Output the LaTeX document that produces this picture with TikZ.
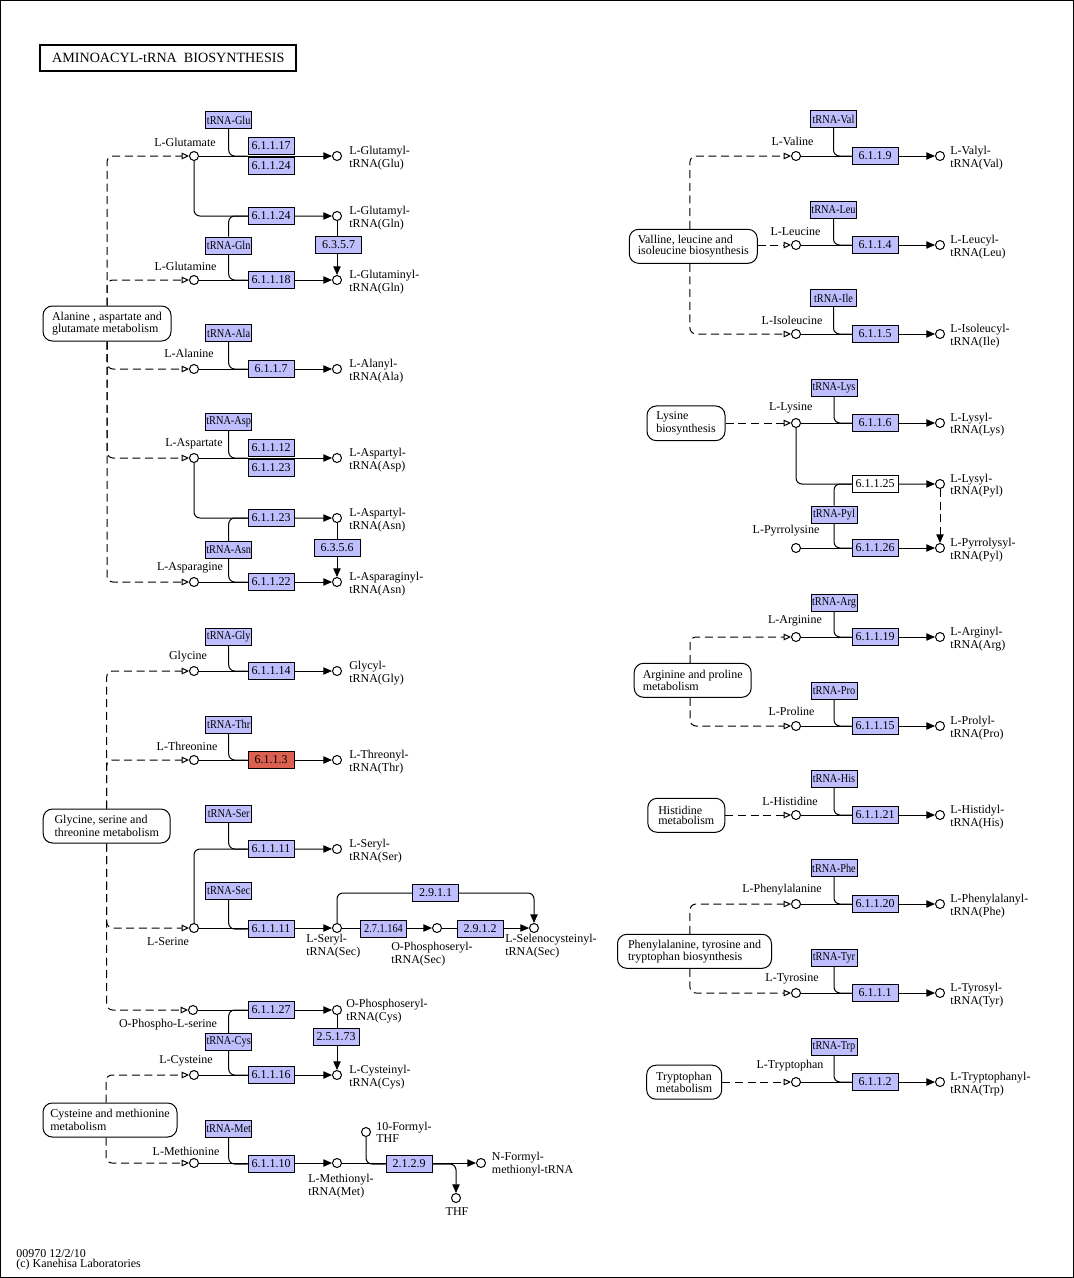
\documentclass[tikz,border=0pt]{standalone}
\usepackage{fontspec}
\usepackage{graphicx}
\setmainfont{Liberation Serif}
\usetikzlibrary{arrows.meta}
\pgfdeclarelayer{bg}
\pgfsetlayers{bg,main}
\definecolor{kblue}{RGB}{191,191,255}
\definecolor{kred}{RGB}{220,96,80}
\newcommand{\trtext}[1]{\scalebox{0.86}[1]{#1}}
\begin{document}
\begin{tikzpicture}[x=0.75pt,y=-0.75pt,
  every node/.style={font=\fontsize{9}{7.6}\selectfont, inner sep=0pt},
  cpd/.style={circle,draw,fill=white,minimum size=6.75pt,line width=0.75pt},
  enz/.style={rectangle,draw,fill=kblue,minimum width=34.5pt,minimum height=12.75pt,line width=0.75pt},
  enzr/.style={enz,fill=kred},
  enzw/.style={enz,fill=white},
  trna/.style={enz},
  mapbox/.style={rectangle,rounded corners=7pt,draw,fill=white,align=left,line width=0.75pt},
  plbl/.style={anchor=west,align=left},
  rx/.style={line width=0.75pt,rounded corners=4.5pt,-{Triangle[length=6.5pt,width=5.5pt]}},
  rxd/.style={rx,dash pattern=on 6pt off 3.5pt},
  ln/.style={line width=0.75pt,rounded corners=4.5pt},
  dsh/.style={line width=0.75pt,dash pattern=on 6pt off 3.5pt,rounded corners=4.5pt,-{Triangle[open,length=5.5pt,width=5pt,fill=white]}},
]
\useasboundingbox (0,0) rectangle (1074,1278);
\draw[line width=0.75pt] (0.5,0.5) rectangle (1073.5,1277.5);

% title and footer
\node[draw,line width=1.5pt,minimum width=192pt,minimum height=19.5pt,font=\fontsize{10.6}{12}\selectfont] (title) at (168.3,57.5) {AMINOACYL-tRNA\ \ BIOSYNTHESIS};
\node[anchor=west,align=left] (foot) at (16,1260) {00970 12/2/10\\(c) Kanehisa Laboratories};

% ---------- map boxes ----------
\node[mapbox,minimum width=96pt,minimum height=26.25pt] (mapA) at (107,323.5) {Alanine , aspartate and\\glutamate metabolism};
\node[mapbox,minimum width=95.25pt,minimum height=25.5pt] (mapG) at (106.7,826) {Glycine, serine and\\threonine metabolism};
\node[mapbox,minimum width=100.5pt,minimum height=25.5pt] (mapC) at (110,1120) {Cysteine and methionine\\metabolism};
\node[mapbox,minimum width=96pt,minimum height=25.5pt] (mapV) at (693.3,246.3) {Valline, leucine and\\isoleucine biosynthesis};
\node[mapbox,minimum width=58.5pt,minimum height=26pt] (mapL) at (686,423.3) {Lysine\\biosynthesis};
\node[mapbox,minimum width=87.75pt,minimum height=25.5pt] (mapR) at (692.7,680.3) {Arginine and proline\\metabolism};
\node[mapbox,minimum width=57.75pt,minimum height=25.5pt] (mapH) at (686.3,815.3) {Histidine\\metabolism};
\node[mapbox,minimum width=115.5pt,minimum height=25.5pt] (mapP) at (694.5,951.3) {Phenylalanine, tyrosine and\\tryptophan biosynthesis};
\node[mapbox,minimum width=56.25pt,minimum height=25.5pt] (mapT) at (684.2,1082.2) {Tryptophan\\metabolism};

% ---------- compounds (left) ----------
\node[cpd] (glu) at (194,156) {};
\node[cpd] (pGlu) at (337,156) {};
\node[cpd] (pGluGln) at (337,216) {};
\node[cpd] (gln) at (194,280) {};
\node[cpd] (pGln) at (337,280) {};
\node[cpd] (ala) at (194,369) {};
\node[cpd] (pAla) at (337,369) {};
\node[cpd] (asp) at (194,458) {};
\node[cpd] (pAsp) at (337,458) {};
\node[cpd] (pAspAsn) at (337,518) {};
\node[cpd] (asn) at (194,582) {};
\node[cpd] (pAsn) at (337,582) {};
\node[cpd] (gly) at (194,671) {};
\node[cpd] (pGly) at (337,671) {};
\node[cpd] (thr) at (194,760) {};
\node[cpd] (pThr) at (337,760) {};
\node[cpd] (pSer) at (337,849) {};
\node[cpd] (ser) at (194,928) {};
\node[cpd] (serSec) at (337,928) {};
\node[cpd] (opSec) at (437,928) {};
\node[cpd] (selC) at (534,928) {};
\node[cpd] (ops) at (193,1010) {};
\node[cpd] (pOpsC) at (337,1010) {};
\node[cpd] (cys) at (194,1075) {};
\node[cpd] (pCys) at (337,1075) {};
\node[cpd] (met) at (194,1163) {};
\node[cpd] (pMet) at (337,1163) {};
\node[cpd] (fthf) at (366,1132) {};
\node[cpd] (fmet) at (481,1163) {};
\node[cpd] (thf) at (456,1198) {};
% ---------- compounds (right) ----------
\node[cpd] (val) at (796,156) {};
\node[cpd] (pVal) at (940,156) {};
\node[cpd] (leu) at (796,245) {};
\node[cpd] (pLeu) at (940,245) {};
\node[cpd] (ile) at (796,334) {};
\node[cpd] (pIle) at (940,334) {};
\node[cpd] (lys) at (796,423) {};
\node[cpd] (pLys) at (940,423) {};
\node[cpd] (pLysPyl) at (940,484) {};
\node[cpd] (pyl) at (796,548) {};
\node[cpd] (pPyl) at (940,548) {};
\node[cpd] (arg) at (796,637) {};
\node[cpd] (pArg) at (940,637) {};
\node[cpd] (pro) at (796,726) {};
\node[cpd] (pPro) at (940,726) {};
\node[cpd] (his) at (796,815) {};
\node[cpd] (pHis) at (940,815) {};
\node[cpd] (phe) at (796,904) {};
\node[cpd] (pPhe) at (940,904) {};
\node[cpd] (tyr) at (796,993) {};
\node[cpd] (pTyr) at (940,993) {};
\node[cpd] (trp) at (796,1082) {};
\node[cpd] (pTrp) at (940,1082) {};

% ---------- tRNA boxes ----------
\node[trna] (tGlu) at (228.7,120) {\trtext{tRNA-Glu}};
\node[trna] (tGln) at (228.7,245.5) {\trtext{tRNA-Gln}};
\node[trna] (tAla) at (228.7,333) {\trtext{tRNA-Ala}};
\node[trna] (tAsp) at (228.7,422) {\trtext{tRNA-Asp}};
\node[trna] (tAsn) at (228.7,550) {\trtext{tRNA-Asn}};
\node[trna] (tGly) at (228.7,636.5) {\trtext{tRNA-Gly}};
\node[trna] (tThr) at (228.7,724.7) {\trtext{tRNA-Thr}};
\node[trna] (tSer) at (228.7,814) {\trtext{tRNA-Ser}};
\node[trna] (tSec) at (228.7,891) {\trtext{tRNA-Sec}};
\node[trna] (tCys) at (228.7,1042) {\trtext{tRNA-Cys}};
\node[trna] (tMet) at (228.7,1129) {\trtext{tRNA-Met}};
\node[trna] (tVal) at (833.5,119) {\trtext{tRNA-Val}};
\node[trna] (tLeu) at (833.5,210) {\trtext{tRNA-Leu}};
\node[trna] (tIle) at (833.5,298) {\trtext{tRNA-Ile}};
\node[trna] (tLys) at (834,388) {\trtext{tRNA-Lys}};
\node[trna] (tPyl) at (834,514.5) {\trtext{tRNA-Pyl}};
\node[trna] (tArg) at (834,603) {\trtext{tRNA-Arg}};
\node[trna] (tPro) at (834,690.5) {\trtext{tRNA-Pro}};
\node[trna] (tHis) at (834,779) {\trtext{tRNA-His}};
\node[trna] (tPhe) at (834,868) {\trtext{tRNA-Phe}};
\node[trna] (tTyr) at (834,958) {\trtext{tRNA-Tyr}};
\node[trna] (tTrp) at (834,1046.5) {\trtext{tRNA-Trp}};

% ---------- enzymes ----------
\node[enz] (e17) at (271,146) {6.1.1.17};
\node[enz] (e24a) at (271,166) {6.1.1.24};
\node[enz] (e24b) at (271,216) {6.1.1.24};
\node[enz] (e18) at (271,280) {6.1.1.18};
\node[enz] (e357) at (338.5,245) {6.3.5.7};
\node[enz] (e7) at (271,369) {6.1.1.7};
\node[enz] (e12) at (271,448) {6.1.1.12};
\node[enz] (e23a) at (271,468) {6.1.1.23};
\node[enz] (e23b) at (271,518) {6.1.1.23};
\node[enz] (e356) at (337,548) {6.3.5.6};
\node[enz] (e22) at (271,582) {6.1.1.22};
\node[enz] (e14) at (271,671) {6.1.1.14};
\node[enzr] (e3) at (271,760) {6.1.1.3};
\node[enz] (e11a) at (271,849) {6.1.1.11};
\node[enz] (e11b) at (271,929) {6.1.1.11};
\node[enz] (e271164) at (383.5,928.5) {\trtext{2.7.1.164}};
\node[enz] (e2912) at (480,929) {2.9.1.2};
\node[enz] (e2911) at (435.5,893) {2.9.1.1};
\node[enz] (e27) at (271,1010) {6.1.1.27};
\node[enz] (e2573) at (336,1037) {2.5.1.73};
\node[enz] (e16) at (271,1075) {6.1.1.16};
\node[enz] (e10) at (271,1164) {6.1.1.10};
\node[enz] (e2129) at (409,1164) {2.1.2.9};
\node[enz] (e9) at (875,156) {6.1.1.9};
\node[enz] (e4) at (875,245) {6.1.1.4};
\node[enz] (e5) at (875,334) {6.1.1.5};
\node[enz] (e6) at (875,423) {6.1.1.6};
\node[enzw] (e25) at (875,484) {6.1.1.25};
\node[enz] (e26) at (875,548) {6.1.1.26};
\node[enz] (e19) at (875,637) {6.1.1.19};
\node[enz] (e15) at (875,726) {6.1.1.15};
\node[enz] (e21) at (875,815) {6.1.1.21};
\node[enz] (e20) at (875,904) {6.1.1.20};
\node[enz] (e1) at (875,993) {6.1.1.1};
\node[enz] (e2) at (875,1082) {6.1.1.2};

% ---------- compound labels ----------
\node (lGlu) at (185,142.5) {L-Glutamate};
\node (lGln) at (185.5,266.5) {L-Glutamine};
\node (lAla) at (189,353) {L-Alanine};
\node (lAsp) at (194,443.5) {L-Aspartate};
\node (lAsn) at (190,568) {L-Asparagine};
\node (lGly) at (188,657) {Glycine};
\node (lThr) at (187,746) {L-Threonine};
\node (lSer) at (168,942) {L-Serine};
\node (lOps) at (168,1024.5) {O-Phospho-L-serine};
\node (lCys) at (186,1061) {L-Cysteine};
\node (lMet) at (186,1151) {L-Methionine};
\node (lThf) at (457,1212) {THF};
\node (lVal) at (792.5,141.5) {L-Valine};
\node (lLeu) at (795.5,232) {L-Leucine};
\node (lIle) at (792,320) {L-Isoleucine};
\node (lLys) at (790.7,407.5) {L-Lysine};
\node (lPyl) at (786,531) {L-Pyrrolysine};
\node (lArg) at (795,621) {L-Arginine};
\node (lPro) at (791.5,711.5) {L-Proline};
\node (lHis) at (790,801.5) {L-Histidine};
\node (lPhe) at (782,890) {L-Phenylalanine};
\node (lTyr) at (792,978.5) {L-Tyrosine};
\node (lTrp) at (790,1066) {L-Tryptophan};

\node[plbl] (lpGlu) at (349,158) {L-Glutamyl-\\tRNA(Glu)};
\node[plbl] (lpGluGln) at (349,218) {L-Glutamyl-\\tRNA(Gln)};
\node[plbl] (lpGln) at (349,282) {L-Glutaminyl-\\tRNA(Gln)};
\node[plbl] (lpAla) at (349,371) {L-Alanyl-\\tRNA(Ala)};
\node[plbl] (lpAsp) at (349,460) {L-Aspartyl-\\tRNA(Asp)};
\node[plbl] (lpAspAsn) at (349,520) {L-Aspartyl-\\tRNA(Asn)};
\node[plbl] (lpAsn) at (349,584) {L-Asparaginyl-\\tRNA(Asn)};
\node[plbl] (lpGly) at (349,673) {Glycyl-\\tRNA(Gly)};
\node[plbl] (lpThr) at (349,762) {L-Threonyl-\\tRNA(Thr)};
\node[plbl] (lpSer) at (349,851) {L-Seryl-\\tRNA(Ser)};
\node[plbl] (lserSec) at (306,946) {L-Seryl-\\tRNA(Sec)};
\node[plbl] (lopSec) at (391,954) {O-Phosphoseryl-\\tRNA(Sec)};
\node[plbl] (lselC) at (505,946) {L-Selenocysteinyl-\\tRNA(Sec)};
\node[plbl] (lpOpsC) at (346,1011) {O-Phosphoseryl-\\tRNA(Cys)};
\node[plbl] (lpCys) at (349,1077) {L-Cysteinyl-\\tRNA(Cys)};
\node[plbl] (lpMet) at (308,1186) {L-Methionyl-\\tRNA(Met)};
\node[plbl] (lfthf) at (376,1132) {10-Formyl-\\THF};
\node[plbl] (lfmet) at (491.7,1164) {N-Formyl-\\methionyl-tRNA};

\node[plbl] (lpVal) at (950,158) {L-Valyl-\\tRNA(Val)};
\node[plbl] (lpLeu) at (950,247) {L-Leucyl-\\tRNA(Leu)};
\node[plbl] (lpIle) at (950,336) {L-Isoleucyl-\\tRNA(Ile)};
\node[plbl] (lpLys) at (950,425) {L-Lysyl-\\tRNA(Lys)};
\node[plbl] (lpLysPyl) at (950,486) {L-Lysyl-\\tRNA(Pyl)};
\node[plbl] (lpPyl) at (950,550) {L-Pyrrolysyl-\\tRNA(Pyl)};
\node[plbl] (lpArg) at (950,639) {L-Arginyl-\\tRNA(Arg)};
\node[plbl] (lpPro) at (950,728) {L-Prolyl-\\tRNA(Pro)};
\node[plbl] (lpHis) at (950,817) {L-Histidyl-\\tRNA(His)};
\node[plbl] (lpPhe) at (950,906) {L-Phenylalanyl-\\tRNA(Phe)};
\node[plbl] (lpTyr) at (950,995) {L-Tyrosyl-\\tRNA(Tyr)};
\node[plbl] (lpTrp) at (950,1084) {L-Tryptophanyl-\\tRNA(Trp)};

% ---------- connectors ----------
\begin{pgfonlayer}{bg}
% group A
\draw[dsh] (mapA.north) |- (glu);
\draw[dsh] (mapA.north) |- (gln);
\draw[dsh] (mapA.south) |- (ala);
\draw[dsh] (mapA.south) |- (asp);
\draw[dsh] (mapA.south) |- (asn);
\draw[rx] (glu) -- (pGlu);
\draw[ln] (tGlu.south) |- (glu -| e17.west);
\draw[rx] (glu) |- (pGluGln);
\draw[ln] (tGln.north) |- (e24b.west);
\draw[ln] (tGln.south) |- (e18.west);
\draw[rx] (pGluGln) -- (pGln);
\draw[rx] (gln) -- (pGln);
\draw[rx] (ala) -- (pAla);
\draw[ln] (tAla.south) |- (e7.west);
\draw[rx] (asp) -- (pAsp);
\draw[ln] (tAsp.south) |- (asp -| e12.west);
\draw[rx] (asp) |- (pAspAsn);
\draw[ln] (tAsn.north) |- (e23b.west);
\draw[ln] (tAsn.south) |- (e22.west);
\draw[rx] (pAspAsn) -- (pAsn);
\draw[rx] (asn) -- (pAsn);
% group G
\draw[dsh] (mapG.north) |- (gly);
\draw[dsh] (mapG.north) |- (thr);
\draw[dsh] (mapG.south) |- (ser);
\draw[dsh] (mapG.south) |- (ops);
\draw[rx] (gly) -- (pGly);
\draw[ln] (tGly.south) |- (e14.west);
\draw[rx] (thr) -- (pThr);
\draw[ln] (tThr.south) |- (e3.west);
\draw[rx] (ser) |- (pSer);
\draw[ln] (tSer.south) |- (e11a.west);
\draw[rx] (ser) -- (serSec);
\draw[ln] (tSec.south) |- (e11b.west);
\draw[rx] (serSec) -- (opSec);
\draw[rx] (opSec) -- (selC);
\draw[rx] (serSec) |- (e2911.center) -| (selC);
\draw[rx] (ops) -- (pOpsC);
\draw[ln] (tCys.north) |- (e27.west);
\draw[ln] (tCys.south) |- (e16.west);
\draw[rx] (pOpsC) -- (pCys);
\draw[rx] (cys) -- (pCys);
% group C
\draw[dsh] ([xshift=-3pt]mapC.north) |- (cys);
\draw[dsh] ([xshift=-3pt]mapC.south) |- (met);
\draw[rx] (met) -- (pMet);
\draw[ln] (tMet.south) |- (e10.west);
\draw[rx] (pMet) -- (fmet);
\draw[ln] (fthf) |- (e2129.west);
\draw[rx] (e2129.east) -| (thf);
% right groups
\draw[dsh] ([xshift=-2.5pt]mapV.north) |- (val);
\draw[dsh] (mapV.east |- leu) -- (leu);
\draw[dsh] ([xshift=-2.5pt]mapV.south) |- (ile);
\draw[rx] (val) -- (pVal);
\draw[ln] (tVal.south) |- (e9.west);
\draw[rx] (leu) -- (pLeu);
\draw[ln] (tLeu.south) |- (e4.west);
\draw[rx] (ile) -- (pIle);
\draw[ln] (tIle.south) |- (e5.west);
\draw[dsh] (mapL.east |- lys) -- (lys);
\draw[rx] (lys) -- (pLys);
\draw[ln] (tLys.south) |- (e6.west);
\draw[rx] (lys) |- (pLysPyl);
\draw[ln] (tPyl.north) |- (e25.west);
\draw[ln] (tPyl.south) |- (e26.west);
\draw[rx] (pyl) -- (pPyl);
\draw[rxd] (pLysPyl) -- (pPyl);
\draw[dsh] ([xshift=-2pt]mapR.north) |- (arg);
\draw[dsh] ([xshift=-2pt]mapR.south) |- (pro);
\draw[rx] (arg) -- (pArg);
\draw[ln] (tArg.south) |- (e19.west);
\draw[rx] (pro) -- (pPro);
\draw[ln] (tPro.south) |- (e15.west);
\draw[dsh] (mapH.east |- his) -- (his);
\draw[rx] (his) -- (pHis);
\draw[ln] (tHis.south) |- (e21.west);
\draw[dsh] ([xshift=-3.4pt]mapP.north) |- (phe);
\draw[dsh] ([xshift=-3.4pt]mapP.south) |- (tyr);
\draw[rx] (phe) -- (pPhe);
\draw[ln] (tPhe.south) |- (e20.west);
\draw[rx] (tyr) -- (pTyr);
\draw[ln] (tTyr.south) |- (e1.west);
\draw[dsh] (mapT.east |- trp) -- (trp);
\draw[rx] (trp) -- (pTrp);
\draw[ln] (tTrp.south) |- (e2.west);
\end{pgfonlayer}
\end{tikzpicture}
\end{document}
